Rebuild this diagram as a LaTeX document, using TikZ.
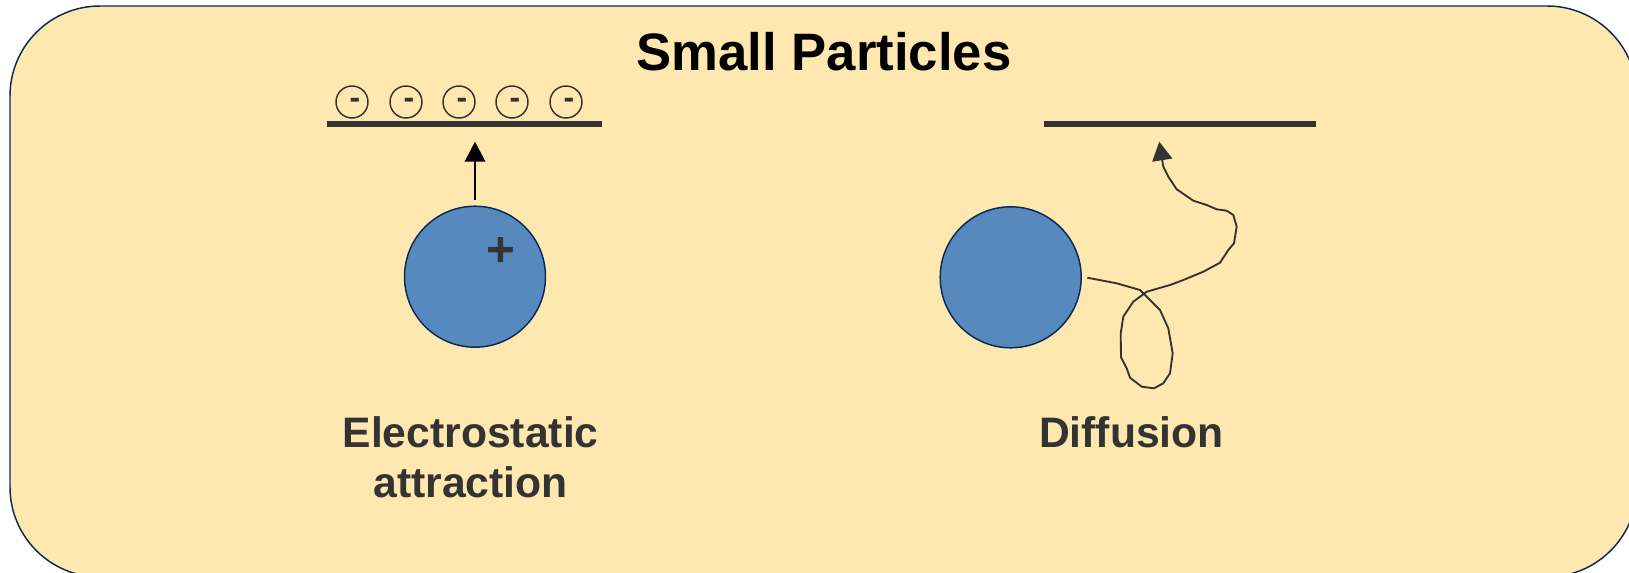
\documentclass[tikz,border=0pt]{standalone}
\usepackage{fontspec}
\setmainfont{Liberation Sans}
\usetikzlibrary{arrows.meta}
\definecolor{boxfill}{HTML}{FFE8AF}
\definecolor{boxline}{HTML}{0B2A52}
\definecolor{partfill}{HTML}{5689BD}
\definecolor{partline}{HTML}{0A2A55}
\definecolor{ink}{HTML}{333333}
\tikzset{
  particle/.style={circle,draw=partline,fill=partfill,line width=1.1pt,minimum size=105.75pt,inner sep=0pt},
  charge/.style={circle,draw=ink,line width=1.1pt,minimum size=24pt,inner sep=0pt},
  surface/.style={draw=ink,line width=3.8pt},
  label/.style={font=\bfseries\fontsize{32}{37}\selectfont,text=ink,anchor=base,inner sep=0pt},
  tiparrow/.style={-{Triangle[length=15pt,width=15.5pt]},line width=1.1pt},
}
\begin{document}
\begin{tikzpicture}[x=0.75pt,y=-0.75pt]
\useasboundingbox (0,0) rectangle (1629,572);
\clip (0,0) rectangle (1629,572);
\fill[white] (0,0) rectangle (1629,572);
\draw[boxline,fill=boxfill,line width=1.1pt,rounded corners=67.5pt] (10,6) rectangle (1637,577);
\node[font=\bfseries\fontsize{39.5}{47}\selectfont,anchor=base,inner sep=0pt] (title) at (824,70.5) {Small Particles};
% electrostatic
\draw[surface] (327,124) coordinate (s1a) -- (602,124) coordinate (s1b);
\foreach \i/\x in {1/352,2/406,3/459,4/512,5/566}{
  \node[charge] (m\i) at (\x,102) {};
  \node[font=\bfseries\fontsize{24}{28}\selectfont,text=ink,anchor=base,inner sep=0pt] (mt\i) at (\x+3,108.5) {-};
}
\node[particle] (p1) at (475,276.7) {};
\node[font=\bfseries\fontsize{37}{42}\selectfont,text=ink,anchor=base,inner sep=0pt] (plus) at (500.7,266.5) {+};
\coordinate (a1s) at (475,200);
\coordinate (a1e) at (475,141.7);
\draw[tiparrow,black] (a1s) -- (a1e);
\node[label] (l1) at (470.6,447) {Electrostatic};
\node[label] (l1b) at (470.6,497) {attraction};
% diffusion
\draw[surface] (1044,124) coordinate (s2a) -- (1316,124) coordinate (s2b);
\node[particle] (p2) at (1010.7,277.3) {};
\coordinate (d0) at (1087.3,277.7);
\coordinate (d1) at (1159.3,141.7);
\draw[ink,line width=1.4pt,line join=round,-{Triangle[length=14pt,width=15pt]}]
  (d0) -- (1116.7,283.3) -- (1140,290) -- (1145,295) -- (1160,310) -- (1168.3,328.3)
  -- (1172.7,353.3) -- (1170,373.3) -- (1163.3,383.3) -- (1154,388.3) -- (1141.7,386.7)
  -- (1130,377.7) -- (1126.7,368.3) -- (1121,357.3) -- (1120.7,333.3) -- (1123.3,316.7)
  -- (1133.3,301.7) -- (1146.7,291.7) -- (1170,285) -- (1183.3,280) -- (1203.3,271.7)
  -- (1220,262.7) -- (1228.3,250) -- (1234,243.3) -- (1236.7,226.7) -- (1233.3,215)
  -- (1226.7,210.7) -- (1216.7,209.3) -- (1206.7,205) -- (1193.3,200.7) -- (1176.7,189.3)
  -- (1168.3,176.7) -- (1163.3,166.7) -- (d1);
\node[label] (l2) at (1131.5,447) {Diffusion};
\end{tikzpicture}
\end{document}
